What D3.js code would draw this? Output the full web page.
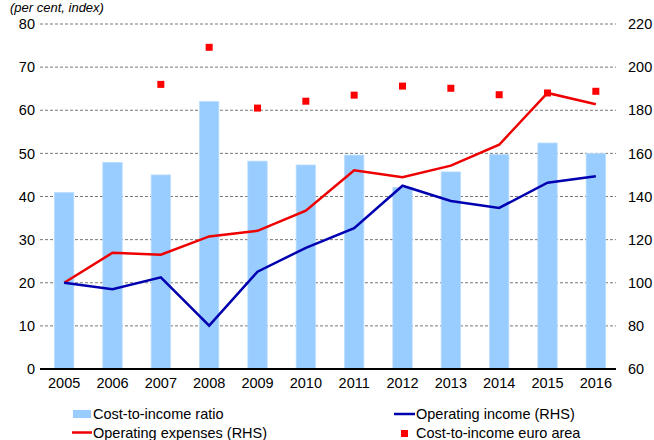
<!DOCTYPE html>
<html><head><meta charset="utf-8">
<script src="https://cdn.jsdelivr.net/npm/d3@7"></script>
<style>body{margin:0;background:#fff}svg{display:block;font-family:"Liberation Sans",Arial,sans-serif}</style>
</head><body><svg id="c" width="654" height="440"></svg>
<script>
const years = ["2005","2006","2007","2008","2009","2010","2011","2012","2013","2014","2015","2016"];
const costToIncome = [40.9,47.9,45.0,62.0,48.2,47.3,49.6,42.1,45.7,49.7,52.4,50.0];
const operatingIncome = [100,97.0,102.5,80.1,105.1,116.2,125.3,145.0,137.9,134.7,146.4,149.4];
const operatingExpenses = [100,113.9,113.0,121.5,124.1,133.4,152.2,148.9,154.3,164.0,188.0,182.8];
const euroArea = [null,null,66.0,74.6,60.5,62.1,63.5,65.6,65.1,63.6,64.0,64.4];
const leftTicks = [0,10,20,30,40,50,60,70,80];
const rightTicks = [60,80,100,120,140,160,180,200,220];

const svg = d3.select("#c");
const L = 40, R = 620, T = 24, B = 369;
const FS = 14.5;
const x = d3.scaleBand().domain(years).range([L, R]).paddingInner(0.6).paddingOuter(0.3);
const yL = d3.scaleLinear().domain([0,80]).range([B,T]);
const yR = d3.scaleLinear().domain([60,220]).range([B,T]);
const cx = d => x(d) + x.bandwidth()/2;

// gridlines
svg.append("g").selectAll("line").data(leftTicks.filter(t=>t>0)).join("line")
  .attr("x1", L).attr("x2", 616).attr("y1", d=>yL(d)).attr("y2", d=>yL(d))
  .attr("stroke","#555").attr("stroke-width",0.8).attr("stroke-dasharray","3,2");

// bars
svg.append("g").selectAll("rect").data(costToIncome).join("rect")
  .attr("x",(d,i)=>x(years[i])).attr("width",x.bandwidth())
  .attr("y",d=>yL(d)).attr("height",d=>B-yL(d))
  .attr("fill","#99ccff").attr("stroke","#b8dcff").attr("stroke-width",0.8);

// baseline
svg.append("line").attr("x1",L).attr("x2",616).attr("y1",B).attr("y2",B).attr("stroke","#000").attr("stroke-width",2);

// lines
const line = d3.line().x((d,i)=>cx(years[i])).y(d=>yR(d));
svg.append("path").datum(operatingExpenses).attr("d",line).attr("fill","none").attr("stroke","#ee0000").attr("stroke-width",2.5);
svg.append("path").datum(operatingIncome).attr("d",line).attr("fill","none").attr("stroke","#0000b0").attr("stroke-width",2.5);

// euro area squares
svg.append("g").selectAll("rect").data(euroArea.map((v,i)=>({v,y:years[i]})).filter(d=>d.v!=null)).join("rect")
  .attr("x",d=>cx(d.y)-3.5).attr("y",d=>yL(d.v)-3.5).attr("width",7).attr("height",7).attr("fill","#ff0000");

// axes
const axL = svg.append("g").attr("transform",`translate(${L-5},0)`)
  .call(d3.axisLeft(yL).tickValues(leftTicks).tickSize(0).tickPadding(0));
const axR = svg.append("g").attr("transform",`translate(628,0)`)
  .call(d3.axisRight(yR).tickValues(rightTicks).tickSize(0).tickPadding(0));
const axX = svg.append("g").attr("transform",`translate(0,${B+6})`)
  .call(d3.axisBottom(x).tickSize(0).tickPadding(3));
[axL,axR,axX].forEach(a=>{a.select(".domain").remove();a.selectAll("text").attr("font-size",FS).attr("fill","#000").attr("font-family","Liberation Sans, Arial, sans-serif");});

// title
svg.append("text").attr("x",10).attr("y",12).attr("font-size",13).attr("font-style","italic").text("(per cent, index)");

// legend
const lg = svg.append("g").attr("font-size",FS);
lg.append("rect").attr("x",73).attr("y",410).attr("width",18).attr("height",8).attr("fill","#99ccff");
lg.append("text").attr("x",93).attr("y",419).text("Cost-to-income ratio");
lg.append("line").attr("x1",72).attr("x2",92).attr("y1",432.5).attr("y2",432.5).attr("stroke","#ee0000").attr("stroke-width",2.5);
lg.append("text").attr("x",93).attr("y",438).text("Operating expenses (RHS)");
lg.append("line").attr("x1",394).attr("x2",415).attr("y1",414).attr("y2",414).attr("stroke","#0000b0").attr("stroke-width",2.5);
lg.append("text").attr("x",416).attr("y",419).text("Operating income (RHS)");
lg.append("rect").attr("x",401).attr("y",430).attr("width",7).attr("height",7).attr("fill","#ff0000");
lg.append("text").attr("x",416).attr("y",438).text("Cost-to-income euro area");
</script></body></html>
